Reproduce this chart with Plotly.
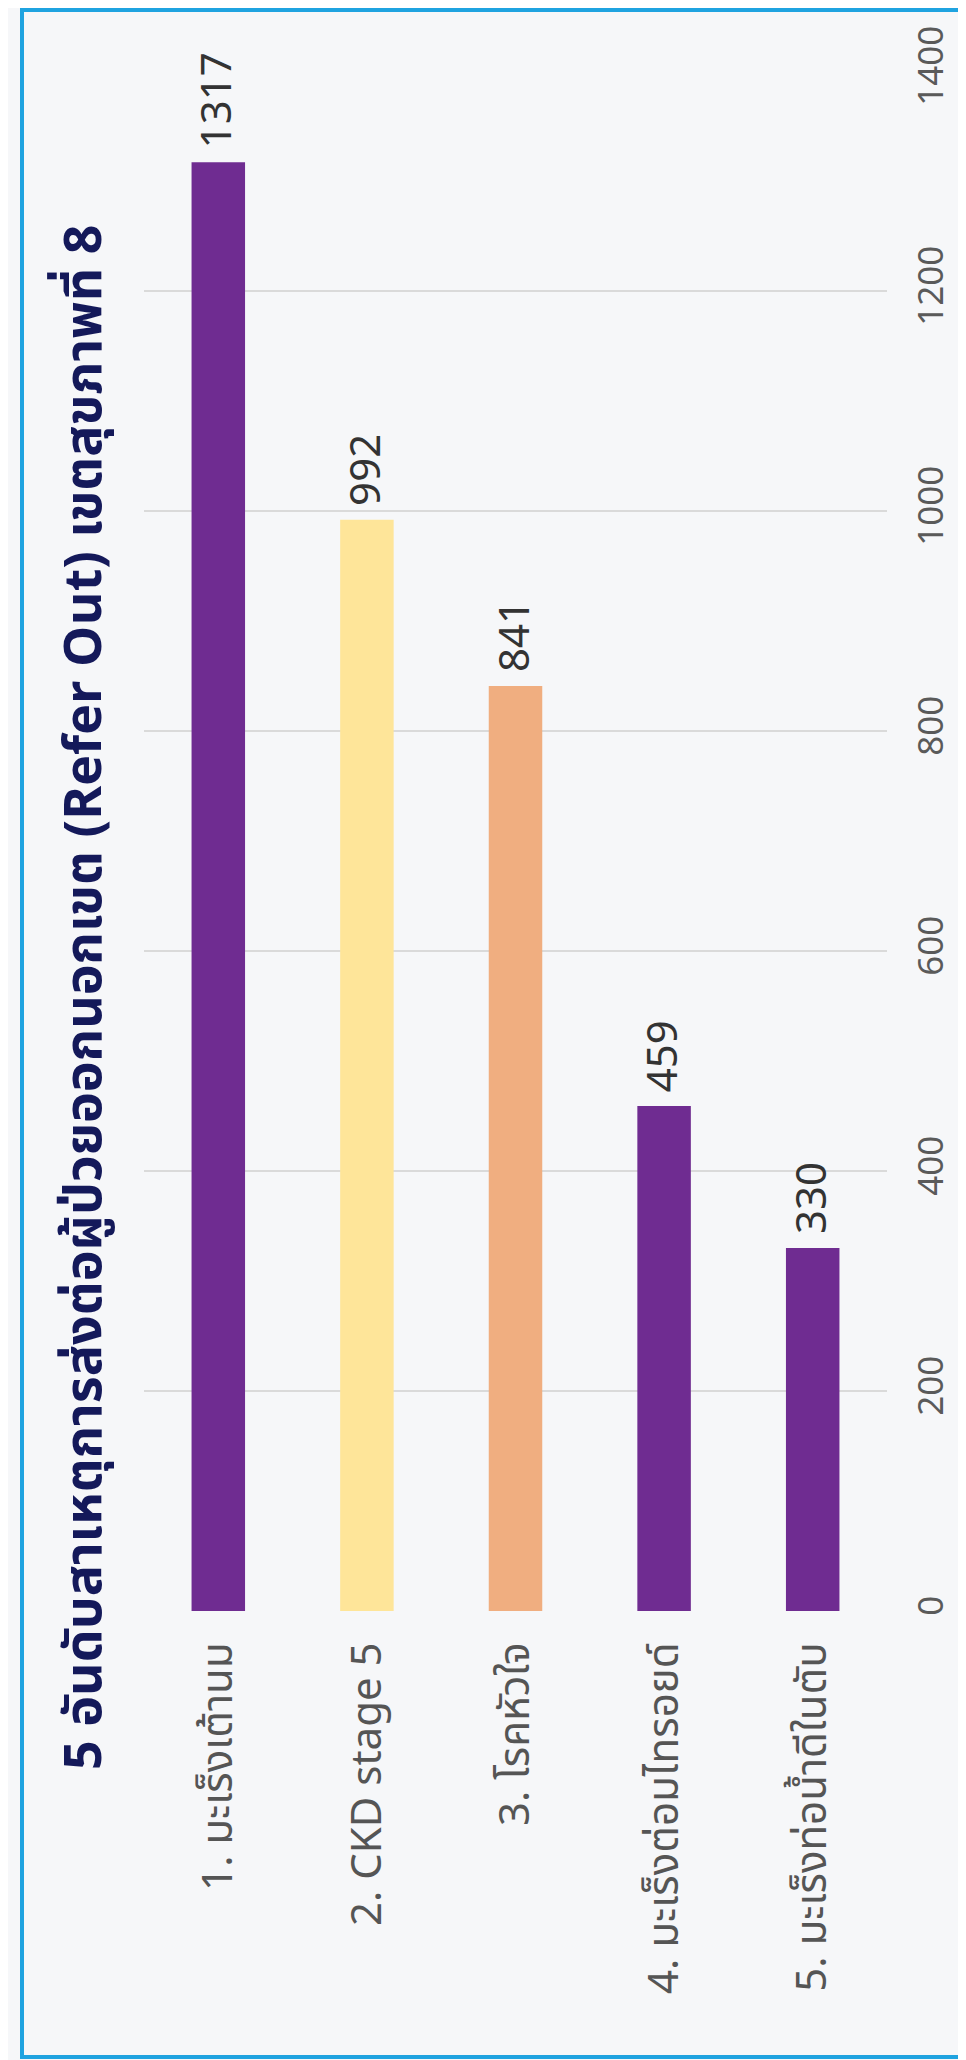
import plotly.graph_objects as go

# ---- data ----
categories = ["1. มะเร็งเต้านม", "2. CKD stage 5", "3. โรคหัวใจ",
              "4. มะเร็งต่อมไทรอยด์", "5. มะเร็งท่อน้ำดีในตับ"]
values = [1317, 992, 841, 459, 330]
bar_colors = ["#6f2c91", "#fee599", "#f0ae80", "#6f2c91", "#6f2c91"]
value_ticks = [0, 200, 400, 600, 800, 1000, 1200, 1400]
title_text = "5 อันดับสาเหตุการส่งต่อผู้ป่วยออกนอกเขต (Refer Out) เขตสุขภาพที่ 8"

# ---- layout geometry ----
W, H = 966, 2060
L, R, T, B = 136, 87, 63, 457
PW, PH = W - L - R, H - T - B


def px2x(px):
    return (px - L) / PW


def py2y(py):
    return (H - B - py) / PH


FONT = "Noto Sans Thai, Noto Sans, sans-serif"

fig = go.Figure(
    go.Bar(
        x=categories,
        y=values,
        marker=dict(color=bar_colors, line=dict(width=0)),
        width=0.36,
        text=values,
        texttemplate="\u00a0%{text}",
        textposition="outside",
        textangle=-90,
        constraintext="none",
        textfont=dict(family=FONT, size=42, color="#333333"),
        cliponaxis=False,
        hoverinfo="x+y",
    )
)

fig.update_layout(
    width=W,
    height=H,
    margin=dict(l=L, r=R, t=T, b=B, autoexpand=False),
    paper_bgcolor="#f6f7f9",
    plot_bgcolor="rgba(0,0,0,0)",
    showlegend=False,
    font=dict(family=FONT),
    xaxis=dict(
        tickangle=-90,
        tickfont=dict(family=FONT, size=42, color="#555555"),
        ticklabelstandoff=22,
        showgrid=False,
        showline=False,
        ticks="",
        automargin=False,
    ),
    yaxis=dict(
        side="right",
        range=[0, 1400],
        tickvals=value_ticks,
        tickangle=-90,
        tickfont=dict(family=FONT, size=35, color="#5a5a5a"),
        ticklabelstandoff=20,
        showgrid=True,
        gridcolor="#dadada",
        gridwidth=1.5,
        zeroline=False,
        showline=False,
        ticks="",
        automargin=False,
    ),
    annotations=[
        dict(
            text="<b>" + title_text + "</b>",
            xref="paper", yref="paper",
            x=px2x(77), y=py2y(989),
            xanchor="center", yanchor="middle",
            textangle=-90,
            showarrow=False,
            font=dict(family=FONT, size=52, color="#14195a"),
        )
    ],
    shapes=[
        dict(
            type="rect", xref="paper", yref="paper",
            x0=px2x(14), x1=px2x(962), y0=py2y(2049), y1=py2y(2),
            line=dict(color="#1fa3e0", width=4),
            fillcolor="rgba(0,0,0,0)",
            layer="below",
        )
    ],
)

fig.write_html("out.html")
